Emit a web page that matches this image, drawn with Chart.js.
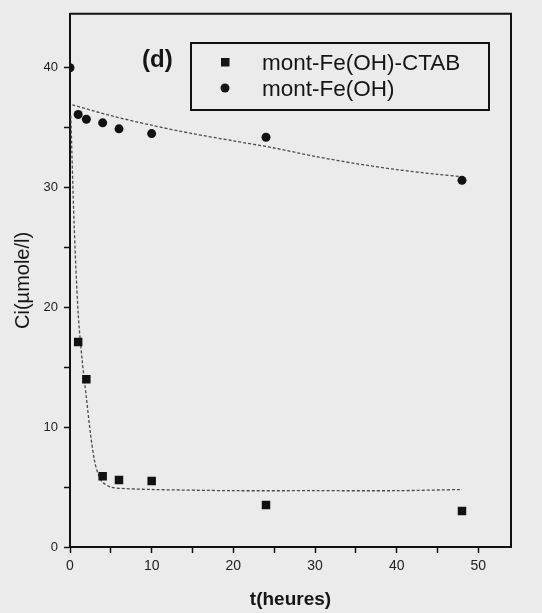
<!DOCTYPE html>
<html><head><meta charset="utf-8">
<script src="https://cdn.jsdelivr.net/npm/chart.js@4.4.0/dist/chart.umd.min.js"></script>
<style>
html,body{margin:0;padding:0;background:#ebebeb;}
#wrap{position:relative;width:542px;height:613px;}
canvas{display:block;}
</style>
</head><body><div id="wrap"><canvas id="c" width="542" height="613"></canvas></div>
<script>
// ---- data ----
const timesCTAB  = [1, 2, 4, 6, 10, 24, 48];
const valuesCTAB = [17.1, 14.0, 5.9, 5.6, 5.5, 3.5, 3.0];
const timesFeOH  = [0, 1, 2, 4, 6, 10, 24, 48];
const valuesFeOH = [40.0, 36.1, 35.7, 35.4, 34.9, 34.5, 34.2, 30.6];
const fitTimesCTAB  = [0.1, 0.5, 1, 1.5, 2, 2.5, 3, 3.5, 4, 5, 6, 10, 20, 30, 40, 48];
const fitValuesCTAB = [36, 27, 19.5, 15.5, 12.5, 9.5, 7.2, 6.0, 5.4, 5.0, 4.9, 4.8, 4.7, 4.7, 4.7, 4.8];
const fitTimesFeOH  = [0.3, 5, 10, 15, 20, 25, 30, 35, 40, 45, 48];
const fitValuesFeOH = [36.9, 36.0, 35.2, 34.5, 33.9, 33.3, 32.6, 32.0, 31.5, 31.1, 30.9];
const seriesLabels = ['mont-Fe(OH)-CTAB', 'mont-Fe(OH)'];
const panelLabel = '(d)';
const xTitle = 't(heures)';
const yTitle = 'Ci(\u00b5mole/l)';

const FONT = "'Liberation Sans', Arial, sans-serif";
const toPts = (xs, ys) => xs.map((x, i) => ({x: x, y: ys[i]}));

const frameLegend = {
  id: 'frameLegend',
  afterDraw(chart) {
    const {ctx, chartArea: a} = chart;
    ctx.save();
    ctx.strokeStyle = '#111';
    ctx.lineWidth = 2;
    ctx.beginPath();
    ctx.moveTo(a.left, a.top); ctx.lineTo(a.right, a.top); ctx.lineTo(a.right, a.bottom);
    ctx.stroke();
    // panel label
    ctx.fillStyle = '#151515';
    ctx.textBaseline = 'middle';
    ctx.textAlign = 'left';
    ctx.font = 'bold 24px ' + FONT;
    ctx.fillText(panelLabel, 142, 60);
    // legend box
    ctx.strokeRect(191, 43, 298, 67);
    ctx.fillRect(221, 58, 8.5, 8.5);
    ctx.beginPath(); ctx.arc(225, 88, 4.5, 0, Math.PI * 2); ctx.fill();
    ctx.font = '22.5px ' + FONT;
    ctx.fillText(seriesLabels[0], 262, 64);
    ctx.fillText(seriesLabels[1], 262, 90);
    ctx.restore();
  }
};

new Chart(document.getElementById('c'), {
  type: 'scatter',
  data: {
    datasets: [
      {label: seriesLabels[0], data: toPts(timesCTAB, valuesCTAB), pointStyle: 'rect',
       pointRadius: 6, backgroundColor: '#111', borderColor: '#111', borderWidth: 0},
      {label: seriesLabels[1], data: toPts(timesFeOH, valuesFeOH), pointStyle: 'circle',
       pointRadius: 4.5, backgroundColor: '#111', borderColor: '#111', borderWidth: 0},
      {label: 'fit CTAB', data: toPts(fitTimesCTAB, fitValuesCTAB), showLine: true, pointRadius: 0,
       borderColor: '#4a4a4a', borderWidth: 1.3, borderDash: [3, 2], tension: 0.3, fill: false},
      {label: 'fit FeOH', data: toPts(fitTimesFeOH, fitValuesFeOH), showLine: true, pointRadius: 0,
       borderColor: '#4a4a4a', borderWidth: 1.3, borderDash: [3, 2], tension: 0.3, fill: false}
    ]
  },
  options: {
    responsive: false,
    devicePixelRatio: 1,
    animation: false,
    layout: {padding: {left: 0, right: 31, top: 12, bottom: 0}},
    plugins: {legend: {display: false}, tooltip: {enabled: false}},
    scales: {
      x: {
        type: 'linear', min: 0, max: 54,
        afterFit: s => { s.height = 66; },
        afterBuildTicks: s => { s.ticks = s.ticks.filter(t => Math.abs(t.value % 5) < 1e-9); },
        ticks: {stepSize: 5, autoSkip: false, maxRotation: 0, padding: 5, color: '#222',
                font: {family: FONT, size: 14},
                callback: v => (v % 10 === 0 ? String(v) : '')},
        grid: {drawOnChartArea: false, drawTicks: true, tickLength: 6, tickColor: '#111', tickWidth: 1.5},
        border: {display: true, color: '#111', width: 2},
        title: {display: true, text: xTitle, color: '#151515', font: {family: FONT, size: 19, weight: 'bold'},
                padding: {top: 4, bottom: 2}}
      },
      y: {
        type: 'linear', min: 0, max: 44.5,
        afterFit: s => { s.width = 70; },
        afterBuildTicks: s => { s.ticks = s.ticks.filter(t => Math.abs(t.value % 5) < 1e-9); },
        ticks: {stepSize: 5, autoSkip: false, padding: 6, color: '#222',
                font: {family: FONT, size: 13},
                callback: v => (v % 10 === 0 ? String(v) : '')},
        grid: {drawOnChartArea: false, drawTicks: true, tickLength: 6, tickColor: '#111', tickWidth: 1.5},
        border: {display: true, color: '#111', width: 2},
        title: {display: true, text: yTitle, color: '#151515', font: {family: FONT, size: 20},
                padding: {top: 11, bottom: 0}}
      }
    }
  },
  plugins: [frameLegend]
});
</script>
</body></html>
